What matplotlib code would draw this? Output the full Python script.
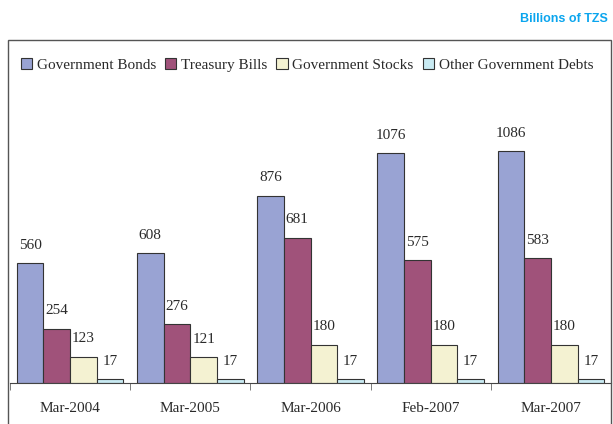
import matplotlib.pyplot as plt
import numpy as np
from matplotlib.patches import Rectangle

periods = ["Mar-2004", "Mar-2005", "Mar-2006", "Feb-2007", "Mar-2007"]
gov_bonds = [560, 608, 876, 1076, 1086]
treasury_bills = [254, 276, 681, 575, 583]
gov_stocks = [123, 121, 180, 180, 180]
other_debts = [17, 17, 17, 17, 17]

series = [
    ("Government Bonds", gov_bonds, "#99a3d3"),
    ("Treasury Bills", treasury_bills, "#a0527a"),
    ("Government Stocks", gov_stocks, "#f4f2d2"),
    ("Other Government Debts", other_debts, "#c8eaf2"),
]

serif = ["Liberation Serif", "DejaVu Serif"]

fig = plt.figure(figsize=(6.13, 4.24), dpi=100)
W, H = 613, 424

# outer chart border
fig.patches.append(Rectangle((8 / W, -0.1), (611 - 8) / W, 1.1 - 40 / H,
                             transform=fig.transFigure, fill=False,
                             edgecolor="#555555", linewidth=1.0))

ax = fig.add_axes([10 / W, 1 - 383 / H, (611 - 10) / W, (383 - 40) / H])
ax.set_facecolor("none")

x = np.arange(len(periods))
width = 0.222
offsets = [-1.5, -0.5, 0.5, 1.5]
for (name, vals, color), off in zip(series, offsets):
    bars = ax.bar(x + off * width, vals, width, color=color, edgecolor="#333333",
                  linewidth=0.8, label=name)
    for b, v in zip(bars, vals):
        ax.annotate(str(v), (b.get_x() + b.get_width() / 2, v),
                    xytext=(0, 18), textcoords="offset pixels",
                    ha="center", va="center", fontsize=11, family=serif,
                    color="#2a2a2a")

ax.set_xlim(-0.5, 4.5)
ax.set_ylim(0, 1606)
ax.set_yticks([])
for s in ["top", "right", "left"]:
    ax.spines[s].set_visible(False)
ax.spines["bottom"].set_color("#444444")

ax.set_xticks(x)
ax.set_xticklabels(periods, family=serif, fontsize=11, color="#2a2a2a")
ax.tick_params(axis="x", length=0, pad=14)
ax.set_xticks(np.arange(-0.5, 5, 1), minor=True)
ax.tick_params(axis="x", which="minor", length=5, color="#666666", direction="out")

leg = fig.legend(loc="center", bbox_to_anchor=(307 / W, 1 - 65 / H), ncol=4,
                 frameon=False, handlelength=0.75, handleheight=0.75,
                 handletextpad=0.3, columnspacing=0.6,
                 prop={"family": serif, "size": 11})
for t in leg.get_texts():
    t.set_color("#2a2a2a")

fig.text(608 / W, 1 - 19 / H, "Billions of TZS", ha="right", va="center",
         fontsize=9, fontweight="bold", color="#0aa5ee", family="Liberation Sans")

fig.savefig("out.png", dpi=100)
